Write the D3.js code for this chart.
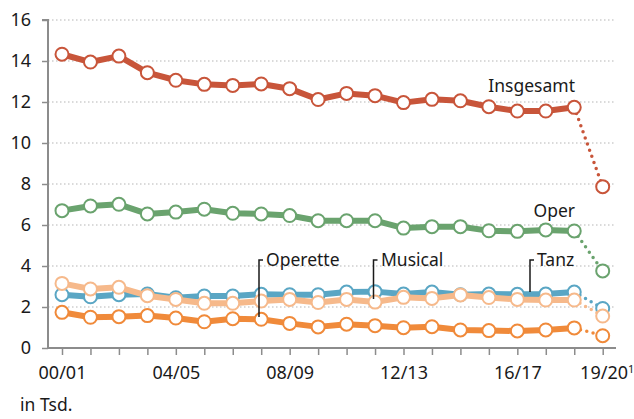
<!DOCTYPE html>
<html><head><meta charset="utf-8">
<script src="https://cdn.jsdelivr.net/npm/d3@7"></script>
<style>body{margin:0;background:#fff}svg{display:block}text{font-family:"Noto Sans",sans-serif;fill:#1a1a1a}</style>
</head><body><svg id="c" width="634" height="419"></svg>
<script>
const seasons = ["00/01","01/02","02/03","03/04","04/05","05/06","06/07","07/08","08/09","09/10","10/11","11/12","12/13","13/14","14/15","15/16","16/17","17/18","18/19","19/20"];
const tickLabels = ["00/01","04/05","08/09","12/13","16/17","19/20"];
const yTicks = [0,2,4,6,8,10,12,14,16];
const insgesamt = [14.33,13.95,14.24,13.43,13.06,12.86,12.81,12.88,12.65,12.12,12.42,12.31,11.97,12.13,12.06,11.77,11.56,11.56,11.74,7.87];
const oper      = [6.70,6.93,7.01,6.54,6.63,6.77,6.57,6.54,6.46,6.21,6.21,6.21,5.85,5.92,5.92,5.72,5.69,5.76,5.71,3.76];
const tanz      = [2.60,2.50,2.60,2.63,2.45,2.54,2.54,2.62,2.60,2.60,2.73,2.75,2.63,2.73,2.60,2.63,2.62,2.63,2.73,1.93];
const musical   = [3.15,2.88,2.96,2.55,2.37,2.18,2.18,2.29,2.37,2.22,2.37,2.24,2.47,2.42,2.59,2.46,2.37,2.34,2.34,1.56];
const operette  = [1.74,1.50,1.53,1.58,1.46,1.28,1.43,1.40,1.20,1.03,1.16,1.09,0.99,1.04,0.88,0.85,0.83,0.88,0.98,0.60];

const series = [
  {name:"Tanz", values:tanz, color:"#5aa6c4"},
  {name:"Musical", values:musical, color:"#f6b98b"},
  {name:"Operette", values:operette, color:"#f08a3a"},
  {name:"Oper", values:oper, color:"#6aa36e"},
  {name:"Insgesamt", values:insgesamt, color:"#c8553a"}
];

const svg = d3.select("#c");
const x = d3.scalePoint().domain(seasons).range([62, 602.7]);
const y = d3.scaleLinear().domain([0,16]).range([348, 20]);
const axisLeftX = 48, axisRightX = 616;

// gridlines
svg.append("g").selectAll("line").data(yTicks.filter(d=>d>0)).join("line")
  .attr("x1", axisLeftX).attr("x2", axisRightX)
  .attr("y1", d=>y(d)).attr("y2", d=>y(d))
  .attr("stroke", "#b5b5b5").attr("stroke-width", 1.2).attr("stroke-dasharray", "1.5 2.5");

// y axis
const ya = svg.append("g").attr("transform", `translate(${axisLeftX},0)`)
  .call(d3.axisLeft(y).tickValues(yTicks).tickSize(6).tickPadding(11).tickFormat(d3.format("d")));
ya.select(".domain").attr("stroke", "#8c8c8c").attr("stroke-width", 2).attr("d", `M-6,${y(16)}H0V${y(0)}`);
ya.selectAll(".tick line").attr("stroke", "#8c8c8c").attr("stroke-width", 1.5);
ya.selectAll(".tick text").attr("font-size", 18).attr("font-family", "Noto Sans").attr("fill", "#1a1a1a");

// x axis
const xa = svg.append("g").attr("transform", `translate(0,${y(0)})`)
  .call(d3.axisBottom(x).tickSize(7).tickPadding(11).tickFormat(d => tickLabels.includes(d) ? d : ""));
xa.select(".domain").attr("stroke", "#8c8c8c").attr("stroke-width", 2).attr("d", `M${axisLeftX},0H${axisRightX}`);
xa.selectAll(".tick line").attr("stroke", "#8c8c8c").attr("stroke-width", 1.5);
xa.selectAll(".tick text").attr("font-size", 18).attr("font-family", "Noto Sans").attr("fill", "#1a1a1a");
xa.selectAll(".tick text").filter(d => d === "19/20").each(function(){
  const t = d3.select(this);
  t.text("19/20").append("tspan").attr("font-size", 11).attr("dy", -6).text("1");
  t.attr("dx", 4);
});

// lines
const solid = d3.line().x((d,i)=>x(seasons[i])).y(d=>y(d));
series.forEach(s => {
  const g = svg.append("g");
  const n = s.values.length;
  g.append("path").attr("d", solid(s.values.slice(0, n-1)))
    .attr("fill","none").attr("stroke", s.color).attr("stroke-width", 6).attr("stroke-linejoin","round");
  const last = [[x(seasons[n-2]), y(s.values[n-2])],[x(seasons[n-1]), y(s.values[n-1])]];
  g.append("path").attr("d", d3.line()(last))
    .attr("fill","none").attr("stroke", s.color).attr("stroke-width", 3.5)
    .attr("stroke-linecap","round").attr("stroke-dasharray","0 6.5");
  g.selectAll("circle").data(s.values).join("circle")
    .attr("cx", (d,i)=>x(seasons[i])).attr("cy", d=>y(d)).attr("r", 6.5)
    .attr("fill", "#fff").attr("stroke", s.color).attr("stroke-width", 2);
});

// labels
const lab = svg.append("g").attr("font-size", 17.5);
lab.append("text").attr("x", 575).attr("y", 92).attr("text-anchor","end").text("Insgesamt");
lab.append("text").attr("x", 575).attr("y", 217).attr("text-anchor","end").text("Oper");
const callouts = [
  {name:"Operette", idx:7, vals:operette, lx:259, tx:266, end:317},
  {name:"Musical", idx:11, vals:musical, lx:373.5, tx:381, end:299},
  {name:"Tanz", idx:17, vals:tanz, lx:530, tx:537, end:292}
];
callouts.forEach(c => {
  svg.append("path").attr("d", `M${c.lx+4},260H${c.lx}V${c.end}`)
    .attr("fill","none").attr("stroke","#1a1a1a").attr("stroke-width",1.5);
  lab.append("text").attr("x", c.tx).attr("y", 266).text(c.name);
});
svg.append("text").attr("x", 20).attr("y", 411).attr("font-size", 17.5).text("in Tsd.");
</script></body></html>
